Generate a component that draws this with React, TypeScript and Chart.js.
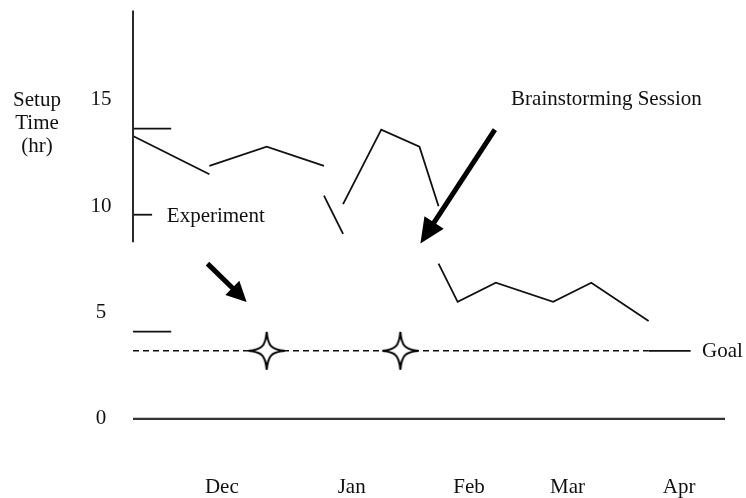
import React, { useEffect, useRef } from "react";
import { Chart, registerables } from "chart.js";

Chart.register(...registerables);

// ---- data ----
const monthLabels = ["Dec", "Jan", "Feb", "Mar", "Apr"];
const monthTickX = [4.65, 11.45, 17.6, 22.75, 28.6];
const yTickValues = [0, 5, 10, 15];

// setup time, drawn as broken segments (x in weeks from start)
const seg1X = [0, 4];
const seg1Y = [13.3, 11.5];
const seg2X = [4, 7, 10];
const seg2Y = [11.9, 12.8, 11.9];
const seg3X = [10, 11];
const seg3Y = [10.5, 8.7];
const seg4X = [11, 13, 15, 16];
const seg4Y = [10.1, 13.6, 12.8, 10.0];
const seg5X = [16, 17, 19, 22, 24, 27];
const seg5Y = [7.3, 5.5, 6.4, 5.5, 6.4, 4.6];

const goalValue = 3.2;
const goalDashedX = [0, 27];
const goalSolidX = [27, 29.2];
const starX = [7, 14];

const zeroLineX = [0, 31];
const axisLineY = [19.2, 8.3];
const upperMarkX = [0, 2];
const upperMarkY = 13.65;
const tenMarkX = [0, 1];
const tenMarkY = 9.6;
const lowerMarkX = [0, 2];
const lowerMarkY = 4.1;

const experimentArrow = { from: [3.9, 7.3], to: [5.95, 5.5] };
const brainstormArrow = { from: [18.95, 13.6], to: [15.05, 8.25] };
const experimentText = { x: 1.77, y: 9.5, text: "Experiment" };
const brainstormText = { x: 19.8, y: 15.0, text: "Brainstorming Session" };
const goalText = { x: 29.8, y: 3.15, text: "Goal" };
const yTitleLines = ["Setup", "Time", "(hr)"];

const FONT = '"Liberation Serif", "Times New Roman", serif';
const INK = "#111111";

function pts(xs: number[], ys: number[]) {
  return xs.map((x, i) => ({ x, y: ys[i] }));
}
function flat(xs: number[], y: number) {
  return xs.map((x) => ({ x, y }));
}
function line(data: any[], extra: any = {}) {
  return {
    data,
    borderColor: INK,
    borderWidth: 1.8,
    pointRadius: 0,
    fill: false,
    tension: 0,
    clip: false,
    ...extra,
  };
}

function makeStar(): HTMLCanvasElement {
  const c = document.createElement("canvas");
  c.width = 40;
  c.height = 42;
  const g = c.getContext("2d")!;
  const cx = 20, cy = 21, h = 19, w = 18, a = 1.2, b = 4.8;
  g.beginPath();
  g.moveTo(cx, cy - h);
  g.bezierCurveTo(cx + a, cy - b, cx + b, cy - a, cx + w, cy);
  g.bezierCurveTo(cx + b, cy + a, cx + a, cy + b, cx, cy + h);
  g.bezierCurveTo(cx - a, cy + b, cx - b, cy + a, cx - w, cy);
  g.bezierCurveTo(cx - b, cy - a, cx - a, cy - b, cx, cy - h);
  g.closePath();
  g.fillStyle = "#ffffff";
  g.fill();
  g.lineWidth = 2;
  g.lineJoin = "miter";
  g.strokeStyle = "#000";
  g.stroke();
  return c;
}

function drawArrow(ctx: CanvasRenderingContext2D, x1: number, y1: number, x2: number, y2: number, shaft: number, headLen: number, headW: number) {
  const dx = x2 - x1, dy = y2 - y1;
  const len = Math.hypot(dx, dy);
  const ux = dx / len, uy = dy / len;
  const bx = x2 - ux * headLen, by = y2 - uy * headLen;
  ctx.save();
  ctx.strokeStyle = "#000";
  ctx.fillStyle = "#000";
  ctx.lineWidth = shaft;
  ctx.lineCap = "butt";
  ctx.beginPath();
  ctx.moveTo(x1, y1);
  ctx.lineTo(bx + ux * 2, by + uy * 2);
  ctx.stroke();
  ctx.beginPath();
  ctx.moveTo(x2, y2);
  ctx.lineTo(bx - uy * headW / 2, by + ux * headW / 2);
  ctx.lineTo(bx + uy * headW / 2, by - ux * headW / 2);
  ctx.closePath();
  ctx.fill();
  ctx.restore();
}

const annotations = {
  id: "annotations",
  afterDatasetsDraw(chart: any) {
    const { ctx, scales } = chart;
    const xs = scales.x, ys = scales.y;
    const px = (v: number) => xs.getPixelForValue(v);
    const py = (v: number) => ys.getPixelForValue(v);
    drawArrow(ctx, px(experimentArrow.from[0]), py(experimentArrow.from[1]), px(experimentArrow.to[0]), py(experimentArrow.to[1]), 5, 20, 20);
    drawArrow(ctx, px(brainstormArrow.from[0]), py(brainstormArrow.from[1]), px(brainstormArrow.to[0]), py(brainstormArrow.to[1]), 5, 25, 23);
    ctx.save();
    ctx.fillStyle = INK;
    ctx.font = `21px ${FONT}`;
    ctx.textBaseline = "middle";
    ctx.textAlign = "left";
    for (const t of [experimentText, brainstormText, goalText]) {
      ctx.fillText(t.text, px(t.x), py(t.y));
    }
    ctx.textAlign = "center";
    const titleY = [100, 123, 146];
    yTitleLines.forEach((s, i) => ctx.fillText(s, 37, titleY[i]));
    ctx.restore();
  },
};

export default function App() {
  const ref = useRef<HTMLCanvasElement | null>(null);
  useEffect(() => {
    if (!ref.current) return;
    const star = makeStar();
    const chart = new Chart(ref.current, {
      type: "line",
      data: {
        datasets: [
          line(flat(zeroLineX, 0), { borderColor: "#333", borderWidth: 2.2 }),
          line(pts([0, 0], axisLineY), { borderColor: "#2a2a2a", borderWidth: 2 }),
          line(flat(upperMarkX, upperMarkY)),
          line(flat(tenMarkX, tenMarkY)),
          line(flat(lowerMarkX, lowerMarkY)),
          line(pts(seg1X, seg1Y)),
          line(pts(seg2X, seg2Y)),
          line(pts(seg3X, seg3Y)),
          line(pts(seg4X, seg4Y)),
          line(pts(seg5X, seg5Y)),
          line(flat(goalDashedX, goalValue), { borderDash: [6, 4], borderWidth: 1.6 }),
          line(flat(goalSolidX, goalValue)),
          {
            data: flat(starX, goalValue),
            showLine: false,
            pointStyle: star,
            pointRadius: 20,
            clip: false,
            order: -1,
          },
        ],
      },
      options: {
        animation: false,
        responsive: true,
        maintainAspectRatio: false,
        events: [],
        layout: { padding: { left: 91, top: 9.5, right: 17.8, bottom: 0 } },
        plugins: { legend: { display: false }, tooltip: { enabled: false } },
        scales: {
          x: {
            type: "linear",
            min: 0,
            max: 31,
            grid: { display: false, drawTicks: false },
            border: { display: false },
            afterBuildTicks: (s: any) => {
              s.ticks = monthTickX.map((v) => ({ value: v }));
            },
            afterFit: (s: any) => {
              s.height = 26;
              s.paddingLeft = 0;
              s.paddingRight = 0;
            },
            ticks: {
              autoSkip: false,
              maxRotation: 0,
              padding: 3,
              color: INK,
              font: { family: FONT, size: 21 },
              callback: (v: any) => {
                const i = monthTickX.indexOf(Number(v));
                return i >= 0 ? monthLabels[i] : "";
              },
            },
          },
          y: {
            type: "linear",
            min: -2.5,
            max: 18.71,
            grid: { display: false, drawTicks: false },
            border: { display: false },
            afterBuildTicks: (s: any) => {
              s.ticks = yTickValues.map((v) => ({ value: v }));
            },
            afterFit: (s: any) => {
              s.width = 42;
              s.paddingTop = 0;
              s.paddingBottom = 0;
            },
            ticks: {
              crossAlign: "center",
              padding: 21.5,
              color: INK,
              font: { family: FONT, size: 21 },
              callback: (v: any) => String(v),
            },
          },
        },
      },
      plugins: [annotations],
    } as any);
    return () => chart.destroy();
  }, []);
  return (
    <div style={{ position: "fixed", left: 0, top: 0, width: 746, height: 498, background: "#fff" }}>
      <canvas ref={ref} />
    </div>
  );
}
